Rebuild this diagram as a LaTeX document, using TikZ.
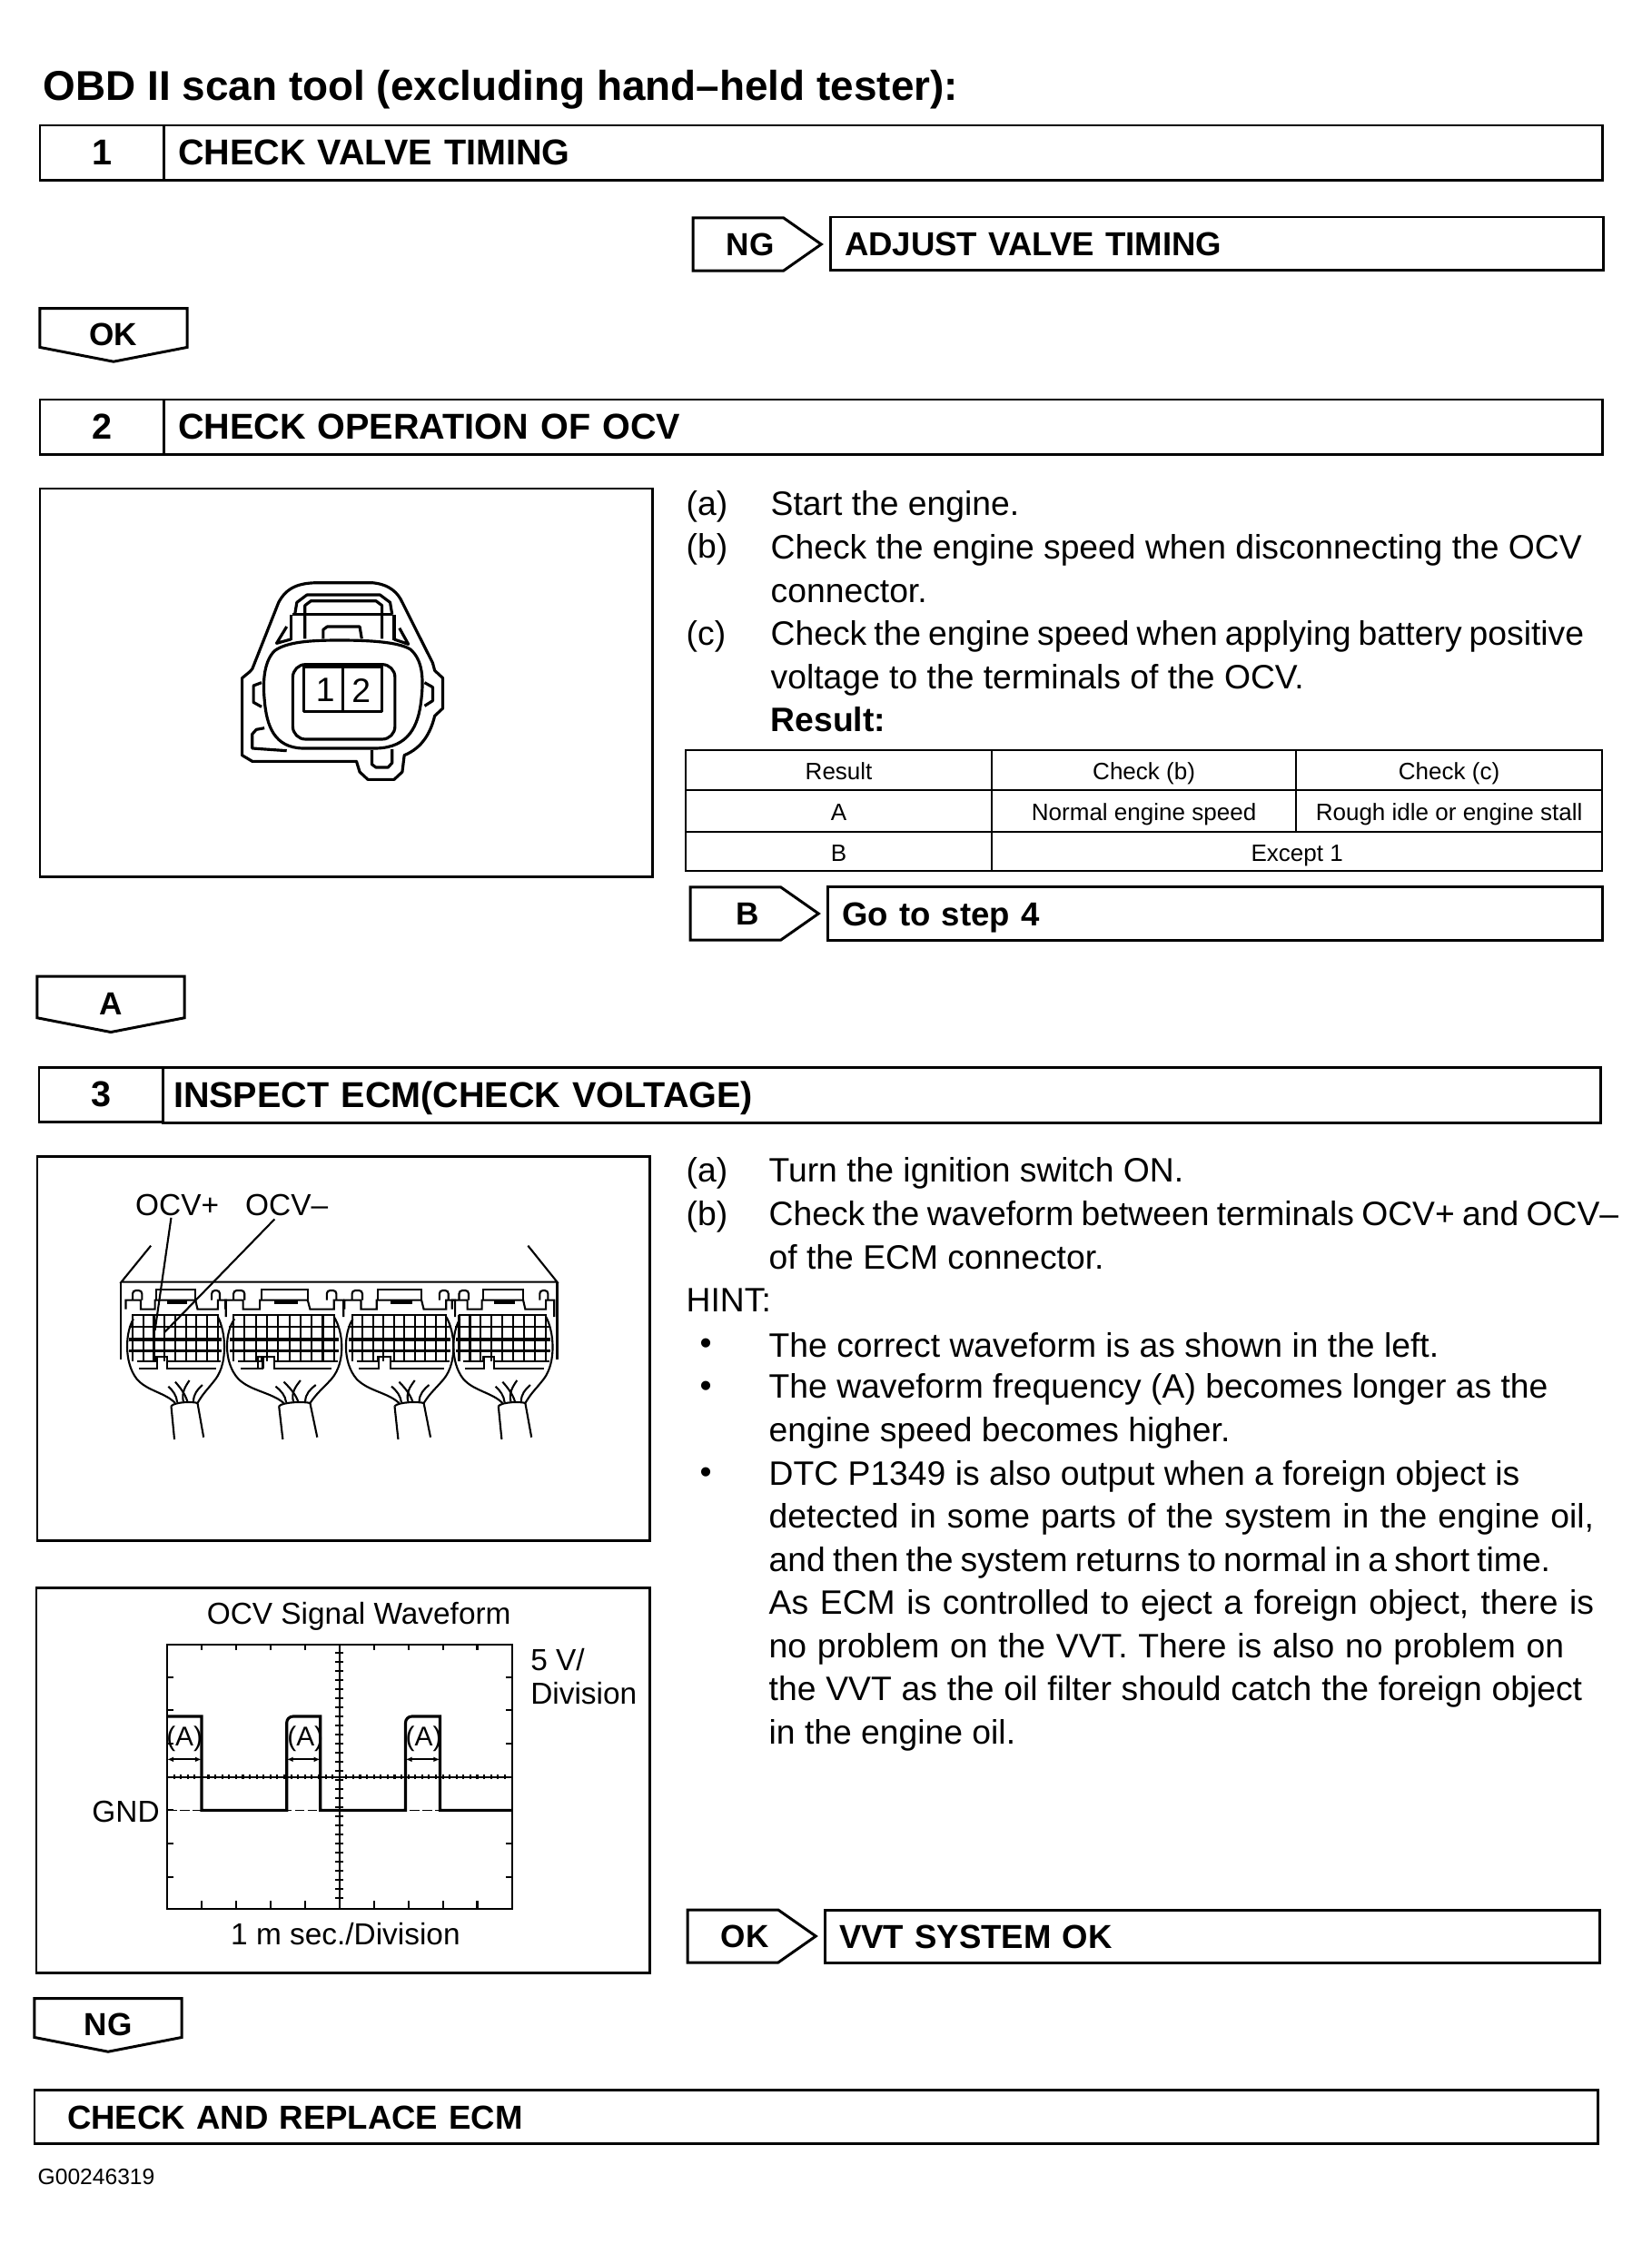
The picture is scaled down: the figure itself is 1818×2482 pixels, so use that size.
\documentclass[tikz,border=0pt]{standalone}
\usepackage{fontspec}
\setmainfont{Liberation Sans}
\usetikzlibrary{arrows.meta,positioning,shapes.symbols}
\newcommand{\ttl}{\fontsize{13.05pt}{15pt}\selectfont\bfseries}
\newcommand{\stf}{\fontsize{11.25pt}{13pt}\selectfont\bfseries}
\newcommand{\hdf}{\fontsize{10.4pt}{13pt}\selectfont\bfseries}
\newcommand{\tgf}{\fontsize{10pt}{13pt}\selectfont\bfseries}
\newcommand{\txt}{\fontsize{10.6pt}{13.5pt}\selectfont}
\newcommand{\jl}[2]{\makebox[#1][s]{#2}}
\begin{document}
\begin{tikzpicture}[x=0.01cm,y=-0.01cm,>=Latex,
  rowbox/.style={draw, line width=0.85pt, anchor=north west, outer sep=0pt, inner xsep=0.16cm, inner ysep=0pt, font=\hdf, align=left, minimum height=0.6cm, text height=7.8pt, text depth=0pt},
  numbox/.style={draw, line width=0.85pt, anchor=north west, outer sep=0pt, inner sep=0pt, font=\stf, minimum height=0.6cm},
  ntag/.style={draw, line width=0.85pt, signal, signal to=east, signal from=nowhere, signal pointer angle=70, minimum width=1.41cm, minimum height=0.58cm, inner sep=0pt, outer sep=0pt, font=\tgf, execute at begin node=\hspace*{0.26cm}},
  dtag/.style={draw, line width=0.85pt, signal, signal to=south, signal from=nowhere, signal pointer angle=158, minimum width=1.62cm, minimum height=0.48cm, inner sep=0pt, outer sep=0pt, font=\tgf, text height=11.1pt, text depth=-1.7pt},
  panel/.style={draw, line width=0.85pt, anchor=north west, outer sep=0pt, inner sep=0pt},
  tcell/.style={draw, line width=0.6pt, anchor=north west, outer sep=0pt, inner sep=0pt, font=\fontsize{7.4pt}{9pt}\selectfont, text height=6.6pt, text depth=0.6pt},
  para/.style={anchor=west, inner sep=0pt, align=left, font=\txt},
  lab/.style={inner sep=0pt, font=\fontsize{9.5pt}{11pt}\selectfont},
  part/.style={line width=0.9pt, line join=round},
  ecm/.style={line width=0.6pt}]
\useasboundingbox (0,0) rectangle (1818,2482);
\fill[white] (0,0) rectangle (1818,2482);
\node[anchor=west, inner sep=0pt, font=\ttl] (title) at (47,99) {OBD II scan tool (excluding hand--held tester):};
\node[numbox, minimum width=1.36cm] (num1) at (44,138) {1};
\node[rowbox, font=\stf, text width=15.52cm] (step1) at (180,138) {CHECK VALVE TIMING};
\node[ntag] (ng1) at (813,269) {NG};
\node[rowbox, text width=8.19cm, minimum height=0.58cm] (adjust) at (914,239) {ADJUST VALVE TIMING};
\node[dtag] (ok1) at (125,361) {OK};
\node[numbox, minimum width=1.36cm] (num2) at (44,440) {2};
\node[rowbox, font=\stf, text width=15.52cm] (step2) at (180,440) {CHECK OPERATION OF OCV};
\node[panel, minimum width=6.74cm, minimum height=4.27cm] (frame2) at (44,538) {};
% step 2 text
\node[para] (a2) at (755,558) {(a)};
\node[para] (a2t) at (848,558) {Start the engine.};
\node[para] (b2) at (755,605) {(b)};
\node[para] (b2t) at (848,626) {Check the engine speed when disconnecting the OCV\\connector.};
\node[para] (c2) at (755,701) {(c)};
\node[para] (c2t) at (848,745) {\jl{8.95cm}{Check the engine speed when applying battery positive}\\voltage to the terminals of the OCV.\\\textbf{Result:}};
\node[tcell, minimum width=3.37cm, minimum height=0.44cm] (r1a) at (755,826) {Result};
\node[tcell, minimum width=3.35cm, minimum height=0.44cm] (r1b) at (1092,826) {Check (b)};
\node[tcell, minimum width=3.37cm, minimum height=0.44cm] (r1c) at (1427,826) {Check (c)};
\node[tcell, minimum width=3.37cm, minimum height=0.46cm] (r2a) at (755,870) {A};
\node[tcell, minimum width=3.35cm, minimum height=0.46cm] (r2b) at (1092,870) {Normal engine speed};
\node[tcell, minimum width=3.37cm, minimum height=0.46cm] (r2c) at (1427,870) {Rough idle or engine stall};
\node[tcell, minimum width=3.37cm, minimum height=0.43cm] (r3a) at (755,916) {B};
\node[tcell, minimum width=6.72cm, minimum height=0.43cm] (r3b) at (1092,916) {Except 1};
\node[ntag] (tagb) at (810,1006) {B};
\node[rowbox, text width=8.21cm, minimum height=0.59cm] (goto4) at (911,976) {Go to step 4};
\node[dtag] (taga) at (122,1098) {A};
\node[numbox, minimum width=1.36cm] (num3) at (43,1175) {3};
\node[rowbox, font=\stf, inner xsep=0.12cm, text width=15.59cm, minimum height=0.61cm] (step3) at (179,1175) {INSPECT ECM(CHECK VOLTAGE)};
\node[panel, minimum width=6.74cm, minimum height=4.23cm] (frame3) at (41,1273) {};
% step 3 text
\node[para] (a3) at (755,1292) {(a)};
\node[para] (a3t) at (846,1292) {Turn the ignition switch ON.};
\node[para] (b3) at (755,1340) {(b)};
\node[para] (b3t) at (846,1360) {\jl{9.35cm}{Check the waveform between terminals OCV+ and OCV--}\\of the ECM connector.};
\node[para] (hint) at (755,1432) {HINT:};
\node[para] (d1) at (770,1483) {\textbullet};
\node[para] (d1t) at (846,1481) {The correct waveform is as shown in the left.};
\node[para] (d2) at (770,1530) {\textbullet};
\node[para] (d2t) at (846,1554) {The waveform frequency (A) becomes longer as the\\engine speed becomes higher.};
\node[para] (d3) at (770,1625) {\textbullet};
\node[para] (d3t) at (846,1768) {DTC P1349 is also output when a foreign object is\\\jl{9.08cm}{detected in some parts of the system in the engine oil,}\\\jl{8.6cm}{and then the system returns to normal in a short time.}\\\jl{9.08cm}{As ECM is controlled to eject a foreign object, there is}\\\jl{8.75cm}{no problem on the VVT. There is also no problem on}\\\jl{8.95cm}{the VVT as the oil filter should catch the foreign object}\\in the engine oil.};
\node[panel, minimum width=6.75cm, minimum height=4.24cm] (frame4) at (40,1748) {};
\node[ntag] (ok3) at (807,2132) {OK};
\node[rowbox, text width=8.21cm, minimum height=0.58cm] (vvt) at (908,2103) {VVT SYSTEM OK};
\node[dtag] (ng3) at (119,2222) {NG};
\node[rowbox, text width=16.48cm, minimum height=0.59cm, inner xsep=0.36cm] (last) at (38,2301) {CHECK AND REPLACE ECM};
\node[anchor=west, inner sep=0pt, font=\fontsize{7pt}{9pt}\selectfont] (code) at (41,2397) {G00246319};
% OCV connector
\begin{scope}[shift={(30,530)},xscale=1/2.24,yscale=1/3]
\draw[part] (555,620) -- (620,400) .. controls (640,350) and (670,335) .. (720,335) -- (850,335) .. controls (895,340) and (915,370) .. (925,400) -- (1000,600) -- (1005,625) -- (1025,650) -- (1025,750) -- (1005,775) .. controls (995,830) and (975,880) .. (930,905) -- (925,960) -- (905,985) -- (840,985) -- (820,960) -- (812,925) -- (555,925) -- (530,905) -- (530,650) -- (548,630) -- cycle;
\draw[part] (770,525) .. controls (700,525) and (640,530) .. (610,560) .. controls (580,600) and (582,680) .. (585,720) .. controls (590,810) and (610,880) .. (680,882) -- (860,882) .. controls (940,880) and (965,810) .. (972,720) .. controls (978,650) and (975,590) .. (945,555) .. controls (915,530) and (840,525) .. (770,525) -- cycle;
\draw[part, rounded corners=4pt] (655,605) rectangle (907,852);
\draw[part, fill=white] (683,612) rectangle (875,760);
\draw[part] (778,612) -- (778,758);
\node[para, anchor=center] (pin1) at (735,690) {1};
\node[para, anchor=center] (pin2) at (824,690) {2};
\draw[part] (655,440) -- (900,440);
\draw[part] (660,440) -- (665,400) -- (690,375) -- (870,375) -- (895,400) -- (900,440);
\draw[part] (685,520) -- (685,410) -- (700,395) -- (860,395) -- (875,410) -- (875,520);
\draw[part] (650,525) -- (650,440);
\draw[part] (905,525) -- (905,440);
\draw[part] (730,520) -- (730,490) -- (740,480) -- (820,480) -- (825,520);
\draw[part] (640,480) -- (615,535) -- (650,522);
\draw[part] (918,485) -- (940,538) -- (905,522);
\draw[part] (578,665) -- (558,675) -- (558,730) -- (578,745);
\draw[part] (980,665) -- (1000,680) -- (1000,725) -- (980,742);
\draw[part] (585,815) -- (565,820) -- (555,835) -- (555,882) -- (640,890);
\draw[part] (850,888) -- (850,935) -- (860,945) -- (890,945) -- (900,930) -- (900,885);
\end{scope}
% ECM connector
\begin{scope}[shift={(30,1260)},xscale=1/2.24,yscale=1/3]
\node[lab] (ocvp) at (370,200) {OCV+};
\node[lab] (ocvm) at (640,200) {OCV--};
\coordinate (tp) at (315,615);
\coordinate (tm) at (338,622);
\draw[ecm] (ocvp.south) ++(-15,5) -- (tp);
\draw[ecm] (ocvm.south) ++(-30,10) -- (tm);
\draw[ecm] (305,335) -- (232,455) -- (1307,455) -- (1235,335);
\draw[ecm] (230,455) -- (230,712);
\draw[ecm] (1307,455) -- (1307,712);
\foreach \ux/\us/\gn in {250/1/8,497/1.18/9,790/1.106/9,1055/1.02/8}{
\begin{scope}[shift={(\ux,0)},xscale=\us]
\draw[ecm, rounded corners=1pt] (10,515) -- (10,483) -- (33,483) -- (33,515);
\draw[ecm, rounded corners=1pt] (205,515) -- (205,483) -- (225,483) -- (225,515);
\draw[ecm] (-7,545) -- (-7,515) -- (30,515) -- (30,545) -- (65,545) -- (65,515) -- (165,515) -- (170,545) -- (220,545) -- (220,515) -- (240,515) -- (240,570);
\draw[ecm] (68,515) -- (68,480) -- (165,480) -- (165,515);
\draw[line width=1.3pt] (95,521) -- (145,521);
\foreach \gx in {0,...,\gn}{\draw[ecm] ({10+\gx*210/\gn},563) -- ({10+\gx*210/\gn},718);}
\draw[ecm] (8,563) -- (222,563);
\draw[ecm] (0,602) -- (228,602);
\draw[line width=0.9pt] (2,645) -- (230,645);
\draw[line width=0.9pt] (2,683) -- (230,683);
\draw[ecm] (20,718) -- (68,718) -- (68,703) -- (95,703) -- (95,718) -- (228,718);
\draw[ecm] (25,740) -- (70,740) -- (70,705);
\draw[ecm] (95,705) -- (95,740) -- (215,740);
\draw[ecm] (12,577) .. controls (-8,620) and (-12,720) .. (20,775) .. controls (45,815) and (90,820) .. (115,855);
\draw[ecm] (220,570) .. controls (240,620) and (245,720) .. (215,775) .. controls (195,810) and (185,820) .. (170,855);
\draw[ecm] (105,865) .. controls (115,850) and (160,850) .. (170,855);
\draw[ecm] (105,865) -- (113,975);
\draw[ecm] (170,855) -- (185,968);
\draw[ecm] (120,852) .. controls (118,830) and (110,815) .. (98,800);
\draw[ecm] (135,850) .. controls (130,820) and (140,800) .. (150,780);
\draw[ecm] (145,850) .. controls (140,825) and (125,800) .. (115,785);
\draw[ecm] (160,850) .. controls (160,825) and (170,810) .. (182,795);
\end{scope}
}
\draw[ecm] (568,740) -- (568,703) -- (582,703) -- (582,740);
\end{scope}
% waveform
\begin{scope}[shift={(30,1740)},xscale=1/2.24,yscale=1/3]
\node[lab] (wtitle) at (818,120) {OCV Signal Waveform};
\node[lab, anchor=west] (volt) at (1240,262) {5 V/};
\node[lab, anchor=west] (vdiv) at (1240,375) {Division};
\node[lab, anchor=east] (gnd) at (328,765) {GND};
\node[lab] (tdiv) at (785,1170) {1 m sec./Division};
\draw[ecm] (345,212) rectangle (1197,1085);
\foreach \tx in {430,515,...,1110}{
\draw[ecm] (\tx,212) -- (\tx,232);
\draw[ecm] (\tx,1085) -- (\tx,1060);
}
\foreach \ty in {320,430,...,980}{
\draw[ecm] (345,\ty) -- (360,\ty);
\draw[ecm] (1197,\ty) -- (1180,\ty);
}
\draw[ecm] (770,212) -- (770,1085);
\draw[ecm] (345,650) -- (1197,650);
\foreach \ty in {240,270,...,1060}{\draw[ecm] (760,\ty) -- (780,\ty);}
\foreach \tx in {362,379,...,1190}{\draw[ecm] (\tx,642) -- (\tx,658);}
\draw[line width=0.3pt, dash pattern=on 3pt off 1pt] (345,760) -- (1197,760);
\draw[line width=0.9pt] (345,450) -- (430,450) -- (430,760) -- (640,760) [rounded corners=2pt] -- (640,450) [sharp corners] -- (723,450) -- (723,760) -- (933,760) [rounded corners=2pt] -- (933,450) [sharp corners] -- (1018,450) -- (1018,760) -- (1197,760);
\foreach \ax/\bx in {345/388,640/686,933/978}{\node[lab, font=\fontsize{8.5pt}{10pt}\selectfont] (pulse\ax) at (\bx,524) {(A)};}
\draw[ecm,<->,>={Latex[length=2pt,width=1.6pt]}] (345,592) -- (430,592);
\draw[ecm,<->,>={Latex[length=2pt,width=1.6pt]}] (640,592) -- (723,592);
\draw[ecm,<->,>={Latex[length=2pt,width=1.6pt]}] (933,592) -- (1018,592);
\end{scope}
\end{tikzpicture}
\end{document}
